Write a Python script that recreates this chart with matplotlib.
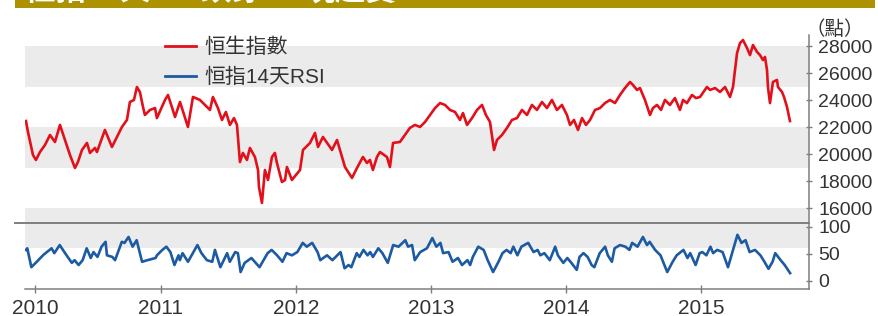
import matplotlib
matplotlib.use('Agg')
import matplotlib.pyplot as plt
from matplotlib.lines import Line2D
from matplotlib.patches import Rectangle

# ---------------- data ----------------
title_text = '恒指14天RSI跌穿20 現超賣'
unit_label = '（點）'
series_names = ['恒生指數', '恒指14天RSI']
year_labels = ['2010', '2011', '2012', '2013', '2014', '2015']
year_ticks = [2010.07, 2011, 2012, 2013, 2014, 2015]
hsi_ticks = [16000, 18000, 20000, 22000, 24000, 26000, 28000]
rsi_ticks = [0, 50, 100]

hsi_dates = [2010.00, 2010.015, 2010.052, 2010.074, 2010.104, 2010.141, 2010.178, 2010.215,
             2010.252, 2010.289, 2010.326, 2010.363, 2010.385, 2010.415, 2010.452, 2010.474,
             2010.511, 2010.526, 2010.585, 2010.637, 2010.681, 2010.711, 2010.748, 2010.770,
             2010.800, 2010.822, 2010.844, 2010.867, 2010.881, 2010.919, 2010.956, 2010.970,
             2011.030, 2011.052, 2011.081, 2011.104, 2011.141, 2011.200, 2011.237, 2011.289,
             2011.326, 2011.363, 2011.385, 2011.422, 2011.452, 2011.481, 2011.511, 2011.541,
             2011.563, 2011.585, 2011.607, 2011.637, 2011.659, 2011.696, 2011.719, 2011.726,
             2011.748, 2011.770, 2011.793, 2011.822, 2011.844, 2011.859, 2011.896, 2011.919,
             2011.933, 2011.970, 2012.030, 2012.052, 2012.104, 2012.141, 2012.163, 2012.200,
             2012.267, 2012.304, 2012.326, 2012.363, 2012.415, 2012.452, 2012.496, 2012.526,
             2012.548, 2012.570, 2012.600, 2012.622, 2012.674, 2012.696, 2012.719, 2012.770,
             2012.807, 2012.844, 2012.881, 2012.919, 2012.956, 2012.993, 2013.030, 2013.067,
             2013.104, 2013.141, 2013.178, 2013.215, 2013.237, 2013.267, 2013.304, 2013.341,
             2013.378, 2013.407, 2013.437, 2013.467, 2013.489, 2013.526, 2013.563, 2013.600,
             2013.637, 2013.674, 2013.711, 2013.748, 2013.785, 2013.822, 2013.859, 2013.896,
             2013.933, 2013.970, 2014.007, 2014.030, 2014.059, 2014.089, 2014.119, 2014.148,
             2014.178, 2014.215, 2014.252, 2014.289, 2014.326, 2014.363, 2014.400, 2014.437,
             2014.474, 2014.496, 2014.526, 2014.548, 2014.585, 2014.622, 2014.644, 2014.674,
             2014.704, 2014.733, 2014.770, 2014.807, 2014.844, 2014.867, 2014.896, 2014.933,
             2014.963, 2014.993, 2015.044, 2015.067, 2015.104, 2015.141, 2015.178, 2015.215,
             2015.237, 2015.267, 2015.289, 2015.311, 2015.341, 2015.363, 2015.385, 2015.415,
             2015.437, 2015.459, 2015.474, 2015.489, 2015.496, 2015.511, 2015.533, 2015.563,
             2015.570, 2015.600, 2015.615, 2015.637, 2015.659]
hsi_values = [22450, 21640, 19940, 19570, 20160, 20680, 21420, 20900,
              22160, 21050, 19940, 18980, 19420, 20310, 20830, 20090,
              20460, 20160, 21790, 20530, 21420, 22010, 22530, 23860,
              24010, 24970, 24600, 23490, 22900, 23270, 23410, 22670,
              24010, 24380, 23490, 22750, 23860, 22010, 24230, 24010,
              23640, 23270, 24230, 23410, 22530, 23120, 22160, 22670,
              22160, 19420, 20090, 19570, 20460, 19790, 18830, 17570,
              16390, 18830, 18090, 19790, 20090, 19350, 17940, 18090,
              19050, 18090, 18830, 20310, 20830, 21570, 20530, 21270,
              20310, 21050, 20310, 19050, 18240, 18980, 19790, 19350,
              19570, 18830, 19790, 20160, 19790, 19050, 20830, 20900,
              21420, 21940, 22160, 22010, 22380, 22900, 23410, 23780,
              23640, 23270, 23120, 22530, 23040, 22160, 22670, 23270,
              23640, 22900, 22380, 20310, 21050, 21420, 21940, 22530,
              22670, 23270, 22900, 23640, 23270, 23860, 23410, 24010,
              23270, 23640, 22900, 22160, 22530, 21790, 22670, 22160,
              22530, 23270, 23410, 23780, 24010, 23780, 24380, 24890,
              25340, 25120, 24750, 24890, 24010, 22900, 23410, 23640,
              23270, 24010, 23640, 24150, 23270, 24010, 23780, 24380,
              24150, 24230, 24970, 24750, 24890, 24600, 24970, 24230,
              24970, 27480, 28220, 28440, 27850, 27330, 28070, 27560,
              27330, 26960, 27190, 26220, 24970, 23780, 25340, 25490,
              24970, 24600, 24230, 23490, 22450]

rsi_dates = [2010.00, 2010.01, 2010.04, 2010.08, 2010.13, 2010.19, 2010.21, 2010.25,
             2010.29, 2010.34, 2010.36, 2010.39, 2010.42, 2010.45, 2010.48, 2010.50,
             2010.53, 2010.56, 2010.59, 2010.60, 2010.64, 2010.66, 2010.71, 2010.73,
             2010.76, 2010.79, 2010.82, 2010.86, 2010.90, 2010.96, 2010.97, 2011.01,
             2011.04, 2011.07, 2011.10, 2011.13, 2011.14, 2011.16, 2011.20, 2011.27,
             2011.30, 2011.34, 2011.38, 2011.40, 2011.44, 2011.49, 2011.51, 2011.55,
             2011.57, 2011.59, 2011.62, 2011.67, 2011.73, 2011.79, 2011.82, 2011.86,
             2011.90, 2011.93, 2011.97, 2012.01, 2012.05, 2012.08, 2012.12, 2012.16,
             2012.18, 2012.23, 2012.27, 2012.33, 2012.36, 2012.39, 2012.41, 2012.45,
             2012.47, 2012.50, 2012.53, 2012.55, 2012.57, 2012.61, 2012.64, 2012.68,
             2012.72, 2012.76, 2012.81, 2012.83, 2012.86, 2012.88, 2012.92, 2012.97,
             2013.01, 2013.04, 2013.07, 2013.09, 2013.13, 2013.16, 2013.20, 2013.23,
             2013.27, 2013.29, 2013.31, 2013.35, 2013.39, 2013.42, 2013.46, 2013.50,
             2013.53, 2013.56, 2013.59, 2013.61, 2013.64, 2013.67, 2013.72, 2013.76,
             2013.79, 2013.81, 2013.84, 2013.88, 2013.92, 2013.94, 2013.98, 2014.01,
             2014.04, 2014.08, 2014.10, 2014.13, 2014.16, 2014.19, 2014.21, 2014.25,
             2014.29, 2014.31, 2014.34, 2014.36, 2014.40, 2014.44, 2014.47, 2014.49,
             2014.53, 2014.57, 2014.60, 2014.62, 2014.66, 2014.70, 2014.75, 2014.79,
             2014.82, 2014.84, 2014.87, 2014.90, 2014.92, 2014.96, 2014.99, 2015.01,
             2015.04, 2015.07, 2015.09, 2015.12, 2015.16, 2015.20, 2015.23, 2015.27,
             2015.30, 2015.33, 2015.36, 2015.40, 2015.44, 2015.47, 2015.50, 2015.53,
             2015.55, 2015.59, 2015.62, 2015.66]
rsi_values = [57, 60, 25, 35, 48, 60, 51, 66,
              51, 33, 38, 29, 38, 60, 42, 53,
              44, 63, 72, 47, 44, 38, 72, 70,
              81, 63, 75, 35, 38, 42, 47, 57,
              63, 53, 29, 47, 38, 51, 35, 66,
              51, 38, 35, 57, 25, 51, 35, 53,
              51, 16, 33, 42, 25, 51, 57, 47,
              35, 51, 47, 53, 70, 63, 70, 53,
              38, 47, 38, 53, 23, 29, 25, 51,
              44, 57, 47, 53, 44, 60, 51, 33,
              66, 63, 75, 63, 66, 38, 53, 60,
              79, 63, 70, 51, 53, 35, 42, 29,
              38, 29, 44, 63, 57, 38, 16, 35,
              51, 57, 51, 63, 47, 63, 70, 53,
              57, 47, 51, 38, 63, 47, 33, 42,
              33, 20, 44, 51, 44, 29, 25, 51,
              63, 47, 35, 60, 66, 63, 57, 70,
              63, 81, 66, 72, 57, 47, 16, 35,
              47, 51, 57, 42, 51, 29, 51, 53,
              47, 63, 51, 57, 53, 25, 51, 85,
              70, 75, 53, 57, 47, 35, 22, 35,
              51, 38, 29, 14]

# ---------------- style ----------------
plt.rcParams['font.family'] = ['Liberation Sans', 'Noto Sans CJK TC', 'DejaVu Sans']
RED = '#E2101B'
BLUE = '#1C5AA3'
BAND = '#EBEBEB'
AXIS = '#7F7F7F'
TXT = '#333333'

W, H = 879, 316
fig = plt.figure(figsize=(W / 100, H / 100), dpi=100)
fig.patch.set_facecolor('white')

left_px, right_px = 25, 809
top_px, sep_px, bot_px = 35, 222.7, 289
ax1 = fig.add_axes([left_px / W, 1 - sep_px / H, (right_px - left_px) / W, (sep_px - top_px) / H])
ax2 = fig.add_axes([left_px / W, 1 - bot_px / H, (right_px - left_px) / W, (bot_px - sep_px) / H],
                   sharex=ax1)

# bands
for lo, hi in [(25000, 28000), (19000, 22000), (13000, 16000)]:
    ax1.axhspan(lo, hi, color=BAND, lw=0, zorder=0)
ax2.axhspan(60, 200, color=BAND, lw=0, zorder=0)

ax1.plot(hsi_dates, hsi_values, color=RED, lw=1.9, solid_joinstyle='round', zorder=3)
ax2.plot(rsi_dates, rsi_values, color=BLUE, lw=1.9, solid_joinstyle='round', zorder=3)

ax1.set_xlim(2009.993, 2015.80)
ax1.set_ylim(14930, 28814)
ax2.set_ylim(-15.4, 107.4)

for ax in (ax1, ax2):
    for s in ('left', 'top'):
        ax.spines[s].set_visible(False)
    ax.spines['right'].set_color(AXIS)
    ax.spines['right'].set_linewidth(1.1)
    ax.yaxis.tick_right()
    ax.tick_params(axis='y', direction='inout', length=5, width=1, color=AXIS,
                   labelsize=14, labelcolor=TXT, pad=4)
    ax.set_facecolor('none')

ax1.spines['bottom'].set_visible(False)
ax1.tick_params(axis='x', bottom=False, labelbottom=False)
ax1.set_yticks(hsi_ticks)
ax1.set_yticklabels([str(t) for t in hsi_ticks])

ax2.spines['bottom'].set_color(AXIS)
ax2.spines['bottom'].set_linewidth(1.1)
ax2.set_yticks(rsi_ticks)
ax2.set_yticklabels([str(t) for t in rsi_ticks])
ax2.set_xticks(year_ticks)
ax2.set_xticklabels(year_labels)
ax2.tick_params(axis='x', direction='inout', length=6, width=1, color=AXIS,
                labelsize=15, labelcolor=TXT, pad=4)

# separator line between panels
fig.add_artist(Line2D([15 / W, right_px / W], [1 - sep_px / H, 1 - sep_px / H],
                      transform=fig.transFigure, color=AXIS, lw=1.4))

# legend
handles = [Line2D([], [], color=RED, lw=2), Line2D([], [], color=BLUE, lw=2)]
ax1.legend(handles, series_names, loc='upper left', bbox_to_anchor=(0.1786, 0.985),
           frameon=False, fontsize=15, handlelength=1.5, handletextpad=0.4,
           labelspacing=0.5, borderpad=0, borderaxespad=0, labelcolor=TXT)

# unit label
fig.text(864 / W, 1 - 30 / H, unit_label, ha='right', va='center', fontsize=14, color=TXT)

# title bar (cut off at the top edge, as in the source)
fig.add_artist(Rectangle((15 / W, 1 - 7.5 / H), 860 / W, 8 / H, transform=fig.transFigure,
                         facecolor='#AC9200', edgecolor='none'))
fig.text(25 / W, 1 - 6.5 / H, title_text, ha='left', va='bottom', fontsize=22,
         fontweight='bold', color='white')

fig.savefig('out.png', dpi=100)
